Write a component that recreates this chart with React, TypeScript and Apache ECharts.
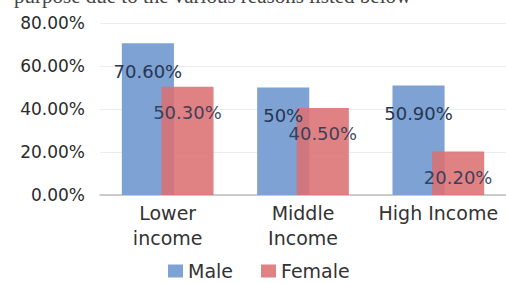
import React, { useEffect, useRef } from "react";
import * as echarts from "echarts";

const categories = ["Lower\nincome", "Middle\nIncome", "High Income"];
const maleValues = [70.6, 50, 50.9];
const femaleValues = [50.3, 40.5, 20.2];
const maleLabels = ["70.60%", "50%", "50.90%"];
const femaleLabels = ["50.30%", "40.50%", "20.20%"];
const yTicks = [0, 20, 40, 60, 80];

export default function App() {
  const ref = useRef<HTMLDivElement>(null);
  useEffect(() => {
    if (!ref.current) return;
    const chart = echarts.init(ref.current, undefined, { renderer: "svg" });
    const font = "DejaVu Sans";
    chart.setOption({
      animation: false,
      backgroundColor: "#ffffff",
      graphic: [
        {
          type: "text",
          left: 14,
          top: -15,
          style: {
            text: "purpose due to the various reasons listed below",
            font: "21px 'Liberation Serif'",
            fill: "#444",
          },
        },
      ],
      legend: {
        left: 168,
        top: 261,
        padding: 0,
        itemWidth: 15,
        itemHeight: 13,
        itemGap: 28,
        icon: "rect",
        textStyle: { fontFamily: font, fontSize: 19, color: "#333", lineHeight: 20 },
        data: ["Male", "Female"],
      },
      grid: { left: 100, right: 0, top: 23, bottom: 88, containLabel: false },
      xAxis: {
        type: "category",
        data: categories,
        axisLine: { lineStyle: { color: "#bdbdbd", width: 1.5 } },
        axisTick: { show: false },
        axisLabel: {
          fontFamily: font,
          fontSize: 19,
          lineHeight: 25,
          color: "#333",
          margin: 5,
          interval: 0,
        },
      },
      yAxis: {
        type: "value",
        min: yTicks[0],
        max: yTicks[yTicks.length - 1],
        interval: 20,
        axisLine: { show: false },
        axisTick: { show: false },
        splitLine: { lineStyle: { color: "#ececec", width: 1 } },
        axisLabel: {
          fontFamily: font,
          fontSize: 17,
          color: "#2b2b2b",
          margin: 15,
          formatter: (v: number) => v.toFixed(2) + "%",
        },
      },
      series: [
        {
          name: "Male",
          type: "bar",
          data: maleValues,
          barWidth: "38.5%",
          barGap: "-24%",
          itemStyle: { color: "#7ea2d3" },
          label: {
            show: true,
            position: "insideTop",
            distance: 19,
            fontFamily: font,
            fontSize: 18,
            color: "#263653",
            formatter: (p: any) => maleLabels[p.dataIndex],
          },
        },
        {
          name: "Female",
          type: "bar",
          data: femaleValues,
          barWidth: "38.5%",
          itemStyle: { color: "#dc6f73", opacity: 0.88 },
          label: {
            show: true,
            position: "insideTop",
            distance: 17,
            fontFamily: font,
            fontSize: 18,
            color: "#263653",
            formatter: (p: any) => femaleLabels[p.dataIndex],
          },
        },
      ],
    });
    return () => chart.dispose();
  }, []);
  return (
    <div
      ref={ref}
      style={{ position: "fixed", left: 0, top: 0, width: 506, height: 283 }}
    />
  );
}
